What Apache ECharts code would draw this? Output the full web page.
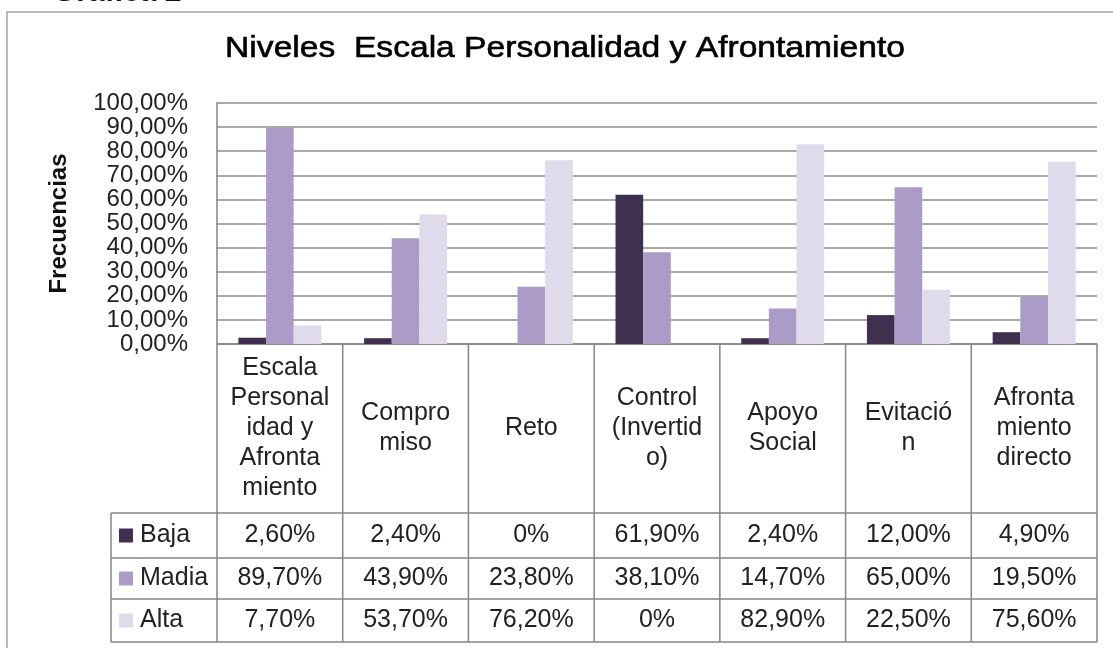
<!DOCTYPE html>
<html>
<head>
<meta charset="utf-8">
<script src="https://cdn.jsdelivr.net/npm/echarts@6/dist/echarts.min.js"></script>
<style>
  html, body { margin: 0; padding: 0; background: #fff; }
  #chart { width: 1113px; height: 648px; }
</style>
</head>
<body>
<div id="chart"></div>
<script>
// --- Datos ---
const categories = ['Escala Personalidad y Afrontamiento', 'Compromiso', 'Reto', 'Control (Invertido)', 'Apoyo Social', 'Evitación', 'Afrontamiento directo'];
// etiquetas tal como se ven en la tabla de datos
const headerLabels = ['Escala\nPersonal\nidad y\nAfronta\nmiento', 'Compro\nmiso', 'Reto', 'Control\n(Invertid\no)', 'Apoyo\nSocial', 'Evitació\nn', 'Afronta\nmiento\ndirecto'];
const seriesNames = ['Baja', 'Madia', 'Alta'];
const baja = [2.6, 2.4, 0, 61.9, 2.4, 12.0, 4.9];
const madia = [89.7, 43.9, 23.8, 38.1, 14.7, 65.0, 19.5];
const alta = [7.7, 53.7, 76.2, 0, 82.9, 22.5, 75.6];
const colors = ['#3f3050', '#aa9cc6', '#dfdbea'];

const FONT = 'Liberation Sans, Arial, sans-serif';
const lineColor = '#858585';

// formato 12,00% / 0%
function fmt(v) {
    if (v === 0) return '0%';
    return v.toFixed(2).replace('.', ',') + '%';
}

const chart = echarts.init(document.getElementById('chart'));

chart.setOption({
    animation: false,
    backgroundColor: '#fff',
    grid: { left: 217, top: 103, right: 16, bottom: 304, outerBoundsMode: 'none' },
    xAxis: {
        type: 'category',
        data: categories,
        axisTick: { show: false },
        axisLabel: { show: false },
        axisLine: { lineStyle: { color: lineColor, width: 1.5 } }
    },
    yAxis: {
        type: 'value',
        min: 0,
        max: 100,
        interval: 10,
        name: 'Frecuencias',
        nameLocation: 'middle',
        nameGap: 146,
        nameTextStyle: { fontFamily: FONT, fontSize: 24, fontWeight: 'bold', color: '#111' },
        axisLine: { show: true, lineStyle: { color: lineColor, width: 1.5 } },
        axisTick: { show: false },
        axisLabel: {
            margin: 29,
            fontFamily: FONT,
            fontSize: 24,
            color: '#222',
            formatter: v => v.toFixed(2).replace('.', ',') + '%'
        },
        splitLine: { lineStyle: { color: '#8c8c8c', width: 1.5 } }
    },
    series: [baja, madia, alta].map((d, i) => ({
        name: seriesNames[i],
        type: 'bar',
        data: d,
        barGap: '0%',
        barCategoryGap: '34%',
        itemStyle: { color: colors[i] }
    }))
});

// --- Tabla de datos (posiciones desde el eje) ---
const rowTops = [344, 513, 558, 599, 642]; // cabecera, Baja, Madia, Alta, fondo
const legendLeft = 111;
const centers = categories.map(c => chart.convertToPixel({ xAxisIndex: 0 }, c));
const band = centers.length > 1 ? centers[1] - centers[0] : 125;
const tableLeft = centers[0] - band / 2;
const tableRight = centers[centers.length - 1] + band / 2;

const g = [];

// marco exterior
g.push({ type: 'rect', shape: { x: 7, y: 12, width: 1130, height: 700 }, style: { fill: 'none', stroke: '#a3a3a3', lineWidth: 1.5 }, silent: true });

// "Gráfica 2" cortado arriba
g.push({ type: 'text', x: 53, y: 8, style: { text: 'Gráfica 2', font: 'bold 30px ' + FONT, fill: '#111', textAlign: 'left', textVerticalAlign: 'bottom' } });

// título
g.push({ type: 'text', x: 565, y: 49, scaleX: 1.12, style: { text: 'Niveles  Escala Personalidad y Afrontamiento', font: '30px ' + FONT, fill: '#000', stroke: '#000', lineWidth: 0.6, textAlign: 'center', textVerticalAlign: 'middle' } });

// lineas verticales
for (let k = 0; k <= categories.length; k++) {
    const x = tableLeft + k * band;
    g.push({ type: 'line', shape: { x1: x, y1: rowTops[0], x2: x, y2: rowTops[4] }, style: { stroke: lineColor, lineWidth: 1.5 } });
}
g.push({ type: 'line', shape: { x1: legendLeft, y1: rowTops[1], x2: legendLeft, y2: rowTops[4] }, style: { stroke: lineColor, lineWidth: 1.5 } });
// lineas horizontales
for (let r = 1; r < rowTops.length; r++) {
    g.push({ type: 'line', shape: { x1: legendLeft, y1: rowTops[r], x2: tableRight, y2: rowTops[r] }, style: { stroke: lineColor, lineWidth: 1.5 } });
}

// cabecera
const headMid = (rowTops[0] + rowTops[1]) / 2;
headerLabels.forEach((t, i) => {
    g.push({ type: 'text', x: centers[i], y: headMid, style: { text: t, font: '25px ' + FONT, fill: '#222', textAlign: 'center', textVerticalAlign: 'middle', lineHeight: 30 } });
});

// filas con leyenda y valores
[baja, madia, alta].forEach((d, r) => {
    const mid = (rowTops[r + 1] + rowTops[r + 2]) / 2;
    g.push({ type: 'rect', shape: { x: 119, y: mid - 7, width: 14, height: 14 }, style: { fill: colors[r] } });
    g.push({ type: 'text', x: 140, y: mid, style: { text: seriesNames[r], font: '25px ' + FONT, fill: '#222', textAlign: 'left', textVerticalAlign: 'middle' } });
    d.forEach((v, i) => {
        g.push({ type: 'text', x: centers[i], y: mid, style: { text: fmt(v), font: '25px ' + FONT, fill: '#222', textAlign: 'center', textVerticalAlign: 'middle' } });
    });
});

chart.setOption({ graphic: g });
</script>
</body>
</html>
